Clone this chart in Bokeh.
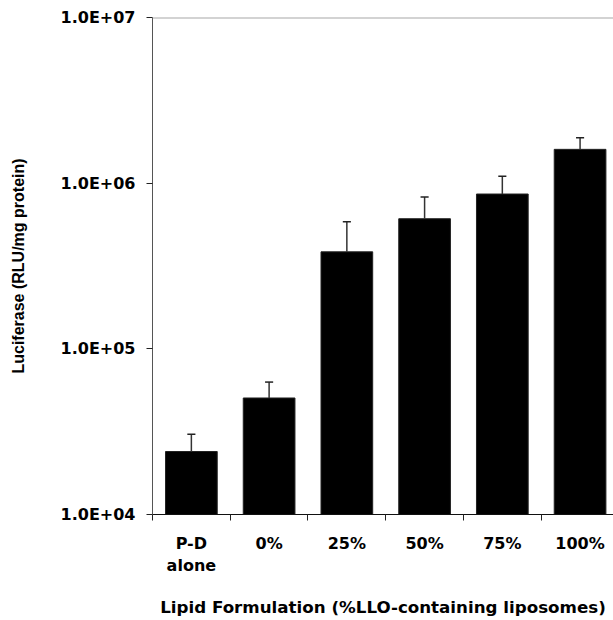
from bokeh.plotting import figure
from bokeh.models import FixedTicker, CustomJSTickFormatter, Range1d, Span
from bokeh.embed import file_html
from bokeh.resources import INLINE

# Luciferase expression per lipid formulation (RLU/mg protein)
categories = ["P-D\nalone", "0%", "25%", "50%", "75%", "100%"]
luciferase = [2.4e4, 5.05e4, 3.85e5, 6.1e5, 8.6e5, 1.6e6]
luciferase_sd = [0.65e4, 1.25e4, 2.0e5, 2.15e5, 2.4e5, 2.8e5]
y_ticks = [1e4, 1e5, 1e6, 1e7]

FONT = "DejaVu Sans"

x_pos = [i + 0.5 for i in range(len(categories))]
err_top = [v + s for v, s in zip(luciferase, luciferase_sd)]

p = figure(
    width=613, height=620,
    y_axis_type="log",
    x_range=Range1d(0, 5.93),
    y_range=Range1d(y_ticks[0], y_ticks[-1]),
    output_backend="svg", toolbar_location=None,
    min_border_left=152, min_border_right=0,
    min_border_top=17, min_border_bottom=105,
)
p.outline_line_color = None
p.background_fill_color = "white"
p.xgrid.visible = False
p.ygrid.visible = False

# bars
p.vbar(x=x_pos, width=0.665, bottom=y_ticks[0], top=luciferase,
       fill_color="black", line_color="#222222", line_width=1)

# upper error bars with caps
cap = 0.052
p.segment(x0=x_pos, y0=luciferase, x1=x_pos, y1=err_top,
          line_color="#333333", line_width=1.5)
p.segment(x0=[x - cap for x in x_pos], y0=err_top,
          x1=[x + cap for x in x_pos], y1=err_top,
          line_color="#222222", line_width=1.5)

# top border line of the plot area
p.add_layout(Span(location=y_ticks[-1], dimension="width",
                  line_color="#a8a8a8", line_width=2))

# y axis
ya = p.yaxis[0]
ya.ticker = FixedTicker(ticks=y_ticks, minor_ticks=[])
ya.formatter = CustomJSTickFormatter(
    code="var s = tick.toExponential(1).toUpperCase();"
         "return s.replace(/E\\+(\\d)$/, 'E+0$1');")
ya.axis_line_color = "#555555"
ya.axis_line_width = 1
ya.major_tick_line_color = "#222222"
ya.major_tick_out = 6
ya.major_tick_in = 0
ya.minor_tick_out = 0
ya.minor_tick_in = 0
ya.major_label_text_font = FONT
ya.major_label_text_font_size = "16px"
ya.major_label_text_font_style = "bold"
ya.major_label_text_color = "black"
ya.major_label_standoff = 11
ya.axis_label = "Luciferase (RLU/mg protein)"
ya.axis_label_text_font = "Liberation Sans"
ya.axis_label_text_font_size = "16px"
ya.axis_label_text_font_style = "bold"
ya.axis_label_text_color = "black"
ya.axis_label_standoff = 31

# x axis: labels centred in categories, ticks on category boundaries
xa = p.xaxis[0]
xa.ticker = FixedTicker(ticks=x_pos, minor_ticks=list(range(len(categories) + 1)))
xa.formatter = CustomJSTickFormatter(
    args=dict(labels=categories),
    code="return labels[Math.floor(tick)];")
xa.axis_line_color = "#111111"
xa.axis_line_width = 1
xa.major_tick_out = 0
xa.major_tick_in = 0
xa.minor_tick_out = 6
xa.minor_tick_in = 0
xa.minor_tick_line_color = "#222222"
xa.major_label_text_font = FONT
xa.major_label_text_font_size = "16px"
xa.major_label_text_font_style = "bold"
xa.major_label_text_color = "black"
xa.major_label_text_line_height = 1.2
xa.major_label_standoff = 13
xa.axis_label = "Lipid Formulation (%LLO-containing liposomes)"
xa.axis_label_text_font = FONT
xa.axis_label_text_font_size = "16.7px"
xa.axis_label_text_font_style = "bold"
xa.axis_label_text_color = "black"
xa.axis_label_standoff = 19

open("out.html", "w").write(file_html(p, INLINE))
